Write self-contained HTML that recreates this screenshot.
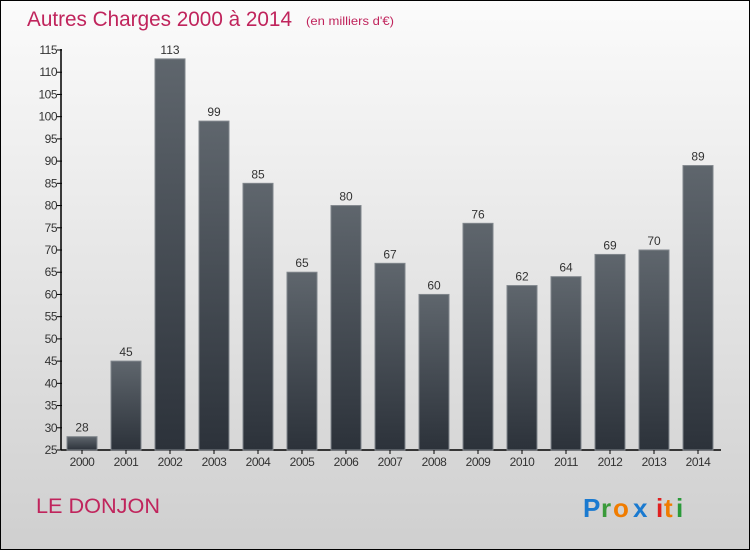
<!DOCTYPE html>
<html><head><meta charset="utf-8"><style>
html,body{margin:0;padding:0}
body{width:750px;height:550px;overflow:hidden;font-family:"Liberation Sans",sans-serif}
#frame{position:absolute;left:0;top:0;width:748px;height:548px;border:1px solid #000;background:linear-gradient(#fbfbfb,#cfcfcf)}
</style></head><body>
<div id="frame">
<svg width="750" height="550" style="position:absolute;left:-1px;top:-1px">
<defs><linearGradient id="bg" x1="0" y1="0" x2="0" y2="1"><stop offset="0" stop-color="#5f666d"/><stop offset="1" stop-color="#2c323a"/></linearGradient></defs>
<text x="27" y="26" font-size="21" fill="#c0245c" textLength="265" lengthAdjust="spacingAndGlyphs">Autres Charges 2000 à 2014</text>
<text x="306" y="25" font-size="12" fill="#c0245c" textLength="88" lengthAdjust="spacingAndGlyphs">(en milliers d'€)</text>
<g id="plot"></g>
<text x="36" y="513" font-size="21" fill="#c0245c" textLength="124" lengthAdjust="spacingAndGlyphs">LE DONJON</text>
<g font-size="26" font-weight="bold" font-family="'Liberation Sans',sans-serif">
<text x="583" y="517" fill="#1a7ad0">P</text><text x="601" y="517" fill="#3a9a3a">r</text><text x="613" y="517" fill="#f07c00">o</text><text x="633" y="517" fill="#1a7ad0">x</text><text x="656" y="517" fill="#e02020">i</text><text x="664" y="517" fill="#f07c00">t</text><text x="676" y="517" fill="#2a9a3a">i</text>
</g>
</svg></div>
<script>
const years=["2000","2001","2002","2003","2004","2005","2006","2007","2008","2009","2010","2011","2012","2013","2014"];
const values=[28,45,113,99,85,65,80,67,60,76,62,64,69,70,89];
const yTicks=[25,30,35,40,45,50,55,60,65,70,75,80,85,90,95,100,105,110,115];
const NS="http://www.w3.org/2000/svg",g=document.getElementById('plot');
const y=v=>450-(v-25)*400/90, x=i=>67+44*i;
function mk(t,a){const e=document.createElementNS(NS,t);for(const k in a)e.setAttribute(k,a[k]);g.appendChild(e);return e;}
let ax=mk('line',{x1:61,y1:49,x2:61,y2:450,stroke:'#000','stroke-width':1.5});


let bx=mk('line',{x1:61,y1:450,x2:721,y2:450,stroke:'#000','stroke-width':1.5});


yTicks.forEach(v=>{
 const l=mk('line',{x1:57,x2:62,y1:y(v),y2:y(v),stroke:'#000'});
 
 
 const t=mk('text',{x:57,y:y(v)+4,'font-size':12,'text-anchor':'end',fill:'#333','letter-spacing':'-0.5'});t.textContent=v;
 
 
});
years.forEach((yr,i)=>{
 const r=mk('rect',{x:x(i),y:y(values[i]),width:30,height:450-y(values[i]),fill:'url(#bg)',stroke:'#80868c','stroke-width':1});
 
 
 const tk=mk('line',{x1:x(i)+15,x2:x(i)+15,y1:450,y2:454,stroke:'#000'});
 
 
 const t=mk('text',{x:x(i)+15,y:466,'font-size':12,'text-anchor':'middle',fill:'#333','letter-spacing':'-0.5'});t.textContent=yr;
 
 
 const v=mk('text',{x:x(i)+15,y:y(values[i])-5,'font-size':12,'text-anchor':'middle',fill:'#333'});v.textContent=values[i];
 
 
});
</script>
</body></html>
